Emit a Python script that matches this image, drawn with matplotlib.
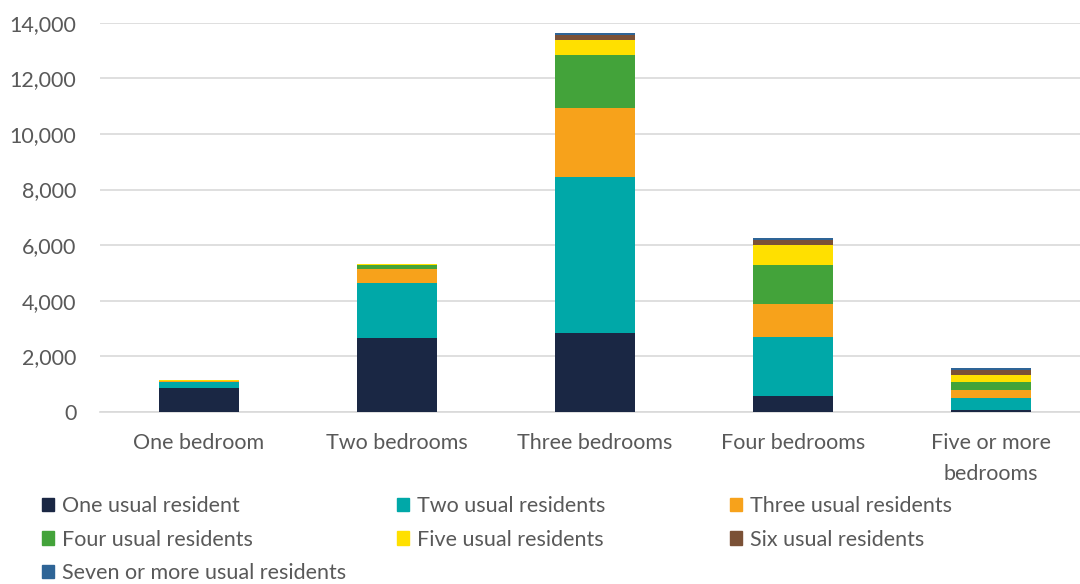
import numpy as np
from matplotlib import pyplot as plt
from matplotlib.patches import Patch

plt.rcParams['font.family'] = ['Lato', 'DejaVu Sans']

categories = ['One bedroom', 'Two bedrooms', 'Three bedrooms', 'Four bedrooms', 'Five or more\nbedrooms']
series_names = ['One usual resident', 'Two usual residents', 'Three usual residents',
                'Four usual residents', 'Five usual residents', 'Six usual residents',
                'Seven or more usual residents']
one_res = [875, 2680, 2850, 560, 80]
two_res = [200, 1975, 5600, 2150, 415]
three_res = [40, 490, 2495, 1165, 290]
four_res = [15, 145, 1900, 1405, 310]
five_res = [5, 30, 550, 710, 250]
six_res = [3, 5, 180, 190, 155]
seven_res = [2, 3, 70, 85, 85]
colors = ['#1a2744', '#00a8a8', '#f7a21b', '#43a33a', '#ffe000', '#7b5136', '#2e6496']

values = [one_res, two_res, three_res, four_res, five_res, six_res, seven_res]

fig = plt.figure(figsize=(10.8, 5.84), dpi=100)
ax = fig.add_axes([100 / 1080, 0.2945, 990 / 1080, 0.6665])

x = np.arange(len(categories))
bottom = np.zeros(len(categories))
handles = []
for name, vals, c in zip(series_names, values, colors):
    ax.bar(x, vals, width=0.404, bottom=bottom, color=c, label=name, zorder=3)
    bottom += np.array(vals)
    handles.append(Patch(color=c, label=name))

ax.set_ylim(0, 14000)
ax.set_xlim(-0.5, len(categories) - 0.5)
ax.set_yticks(range(0, 14001, 2000))
ax.set_yticklabels([f'{v:,}' for v in range(0, 14001, 2000)])
ax.set_xticks(x)
ax.set_xticklabels(categories, linespacing=1.7, va='top')
ax.grid(axis='y', color='#d9d9d9', linewidth=1.2, zorder=0)
for s in ['top', 'right', 'left']:
    ax.spines[s].set_visible(False)
ax.spines['bottom'].set_color('#d9d9d9')
ax.spines['bottom'].set_linewidth(1.2)
ax.tick_params(axis='both', length=0, labelsize=15.5, colors='#595959')
ax.tick_params(axis='x', pad=15)
ax.tick_params(axis='y', pad=17)

# legend laid out in rows of three
col_x = [0.039, 0.3675, 0.6755]
row_groups = [[0, 3, 6], [1, 4], [2, 5]]
for cx, idx in zip(col_x, row_groups):
    leg = fig.legend([handles[i] for i in idx], [series_names[i] for i in idx],
                     loc='upper left', bbox_to_anchor=(cx, 0.151), frameon=False,
                     fontsize=15.5, handlelength=0.56, handleheight=0.56,
                     handletextpad=0.37, labelspacing=0.64, borderaxespad=0,
                     borderpad=0)
    for t in leg.get_texts():
        t.set_color('#595959')

fig.savefig('out.png', dpi=100)
